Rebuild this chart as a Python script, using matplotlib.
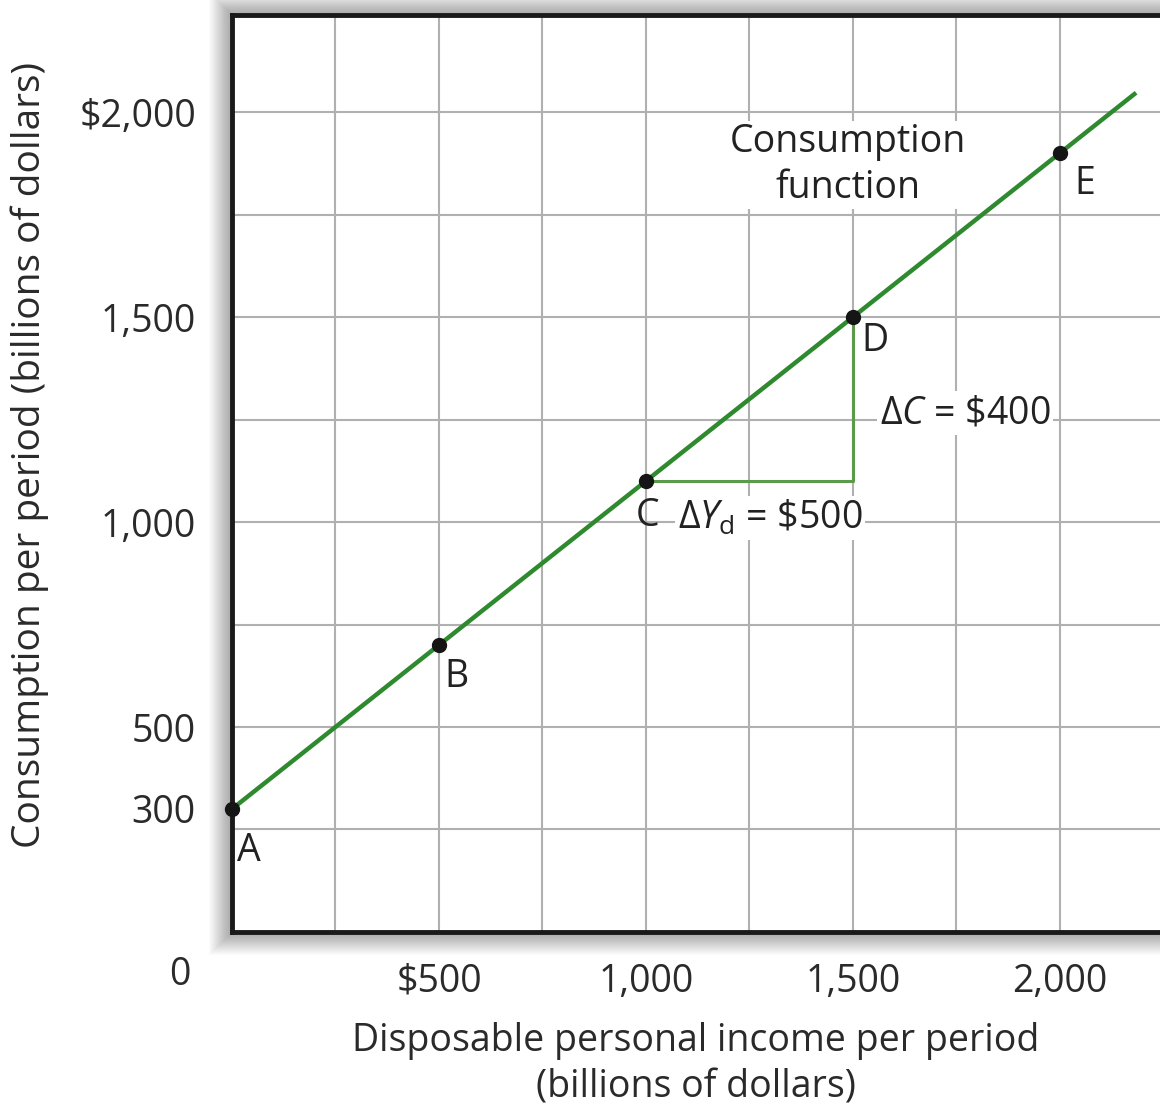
import matplotlib.pyplot as plt
from matplotlib.ticker import MultipleLocator
from matplotlib.patches import Rectangle

plt.rcParams['font.family'] = ['Open Sans', 'DejaVu Sans']
plt.rcParams['mathtext.fontset'] = 'custom'
plt.rcParams['mathtext.rm'] = 'Open Sans'
plt.rcParams['mathtext.it'] = 'Open Sans:italic'

# data (billions of dollars)
income = [0, 500, 1000, 1500, 2000]
consumption = [300, 700, 1100, 1500, 1900]
point_names = ['A', 'B', 'C', 'D', 'E']
line_income = [0, 2180]
line_consumption = [300, 2044]

# slope triangle between C and D
tri_income = [1000, 1500, 1500]
tri_consumption = [1100, 1100, 1500]

xticks = [500, 1000, 1500, 2000]
xticklabels = ['$500', '1,000', '1,500', '2,000']
yticks = [300, 500, 1000, 1500, 2000]
yticklabels = ['300', '500', '1,000', '1,500', '$2,000']

# label offsets in pixels from each point
label_offsets = {'A': (5, -42), 'B': (5, -32), 'C': (-10, -35), 'D': (9, -24), 'E': (15, -31)}

FS = 27
green = '#2f8a2f'
W, H = 1160, 1110

fig = plt.figure(figsize=(W / 100, H / 100), dpi=100)
ax_rect = [0.2, 0.1604, 0.8, 0.8261]

# soft drop shadow round the plot box
for i in range(1, 24):
    fig.patches.append(Rectangle((ax_rect[0] - i / W, ax_rect[1] - i / H),
                                 ax_rect[2] + 2 * i / W, ax_rect[3] + 2 * i / H,
                                 transform=fig.transFigure, facecolor='black',
                                 edgecolor='none', alpha=0.014, zorder=-1))

ax = fig.add_axes(ax_rect)
ax.set_facecolor('white')

ax.set_xlim(0, 2242)
ax.set_ylim(0, 2237)

ax.xaxis.remove_overlapping_locs = False
ax.yaxis.remove_overlapping_locs = False
ax.xaxis.set_minor_locator(MultipleLocator(250))
ax.yaxis.set_minor_locator(MultipleLocator(250))
ax.grid(False)
ax.grid(which='minor', color='#b0b0b0', lw=1.5)
ax.set_axisbelow(True)

ax.set_xticks(xticks)
ax.set_xticklabels(xticklabels)
ax.set_yticks(yticks)
ax.set_yticklabels(yticklabels)
ax.tick_params(which='both', length=0, labelsize=FS, colors='#2a2a2a')
ax.tick_params(axis='x', pad=22)
ax.tick_params(axis='y', pad=26)

for side in ['left', 'top', 'bottom']:
    ax.spines[side].set_linewidth(3.5)
    ax.spines[side].set_color('#1a1a1a')
ax.spines['right'].set_visible(False)

ax.plot(tri_income, tri_consumption, color='#5a9a4a', lw=2.2, zorder=3)
ax.plot(line_income, line_consumption, color=green, lw=3.2, zorder=4, clip_on=False)
ax.plot(income, consumption, 'o', color='#151515', ms=10, zorder=5, clip_on=False)

for x, y, name in zip(income, consumption, point_names):
    ax.annotate(name, (x, y), xytext=label_offsets[name], textcoords='offset pixels',
                ha='left', va='center', fontsize=FS, color='#222222', zorder=6)

bbox = dict(facecolor='white', edgecolor='none', pad=2)
ax.text(1565, 1266, r'$\Delta C$ = \$400', fontsize=FS, ha='left', va='center',
        color='#222222', bbox=bbox, zorder=6)
ax.text(1077, 1010, r'$\Delta Y_{\mathrm{d}}$ = \$500', fontsize=FS, ha='left', va='center',
        color='#222222', bbox=bbox, zorder=5.5)
ax.text(1488, 1871, 'Consumption\nfunction', fontsize=FS, ha='center', va='center',
        color='#222222', linespacing=1.3, bbox=dict(facecolor='white', edgecolor='none', pad=1),
        zorder=6)

ax.annotate('0', (0, 0), xytext=(-52, -43), textcoords='offset pixels',
            ha='center', va='center', fontsize=FS, color='#2a2a2a', annotation_clip=False)

fig.text(0.6, 1 - 1064 / H,
         'Disposable personal income per period\n(billions of dollars)',
         ha='center', va='center', fontsize=FS, color='#2a2a2a', linespacing=1.3)
fig.text(30 / W, 1 - 455 / H, 'Consumption per period (billions of dollars)',
         rotation=90, ha='center', va='center', fontsize=28, color='#2a2a2a')

fig.savefig('out.png', dpi=100, facecolor='white')
